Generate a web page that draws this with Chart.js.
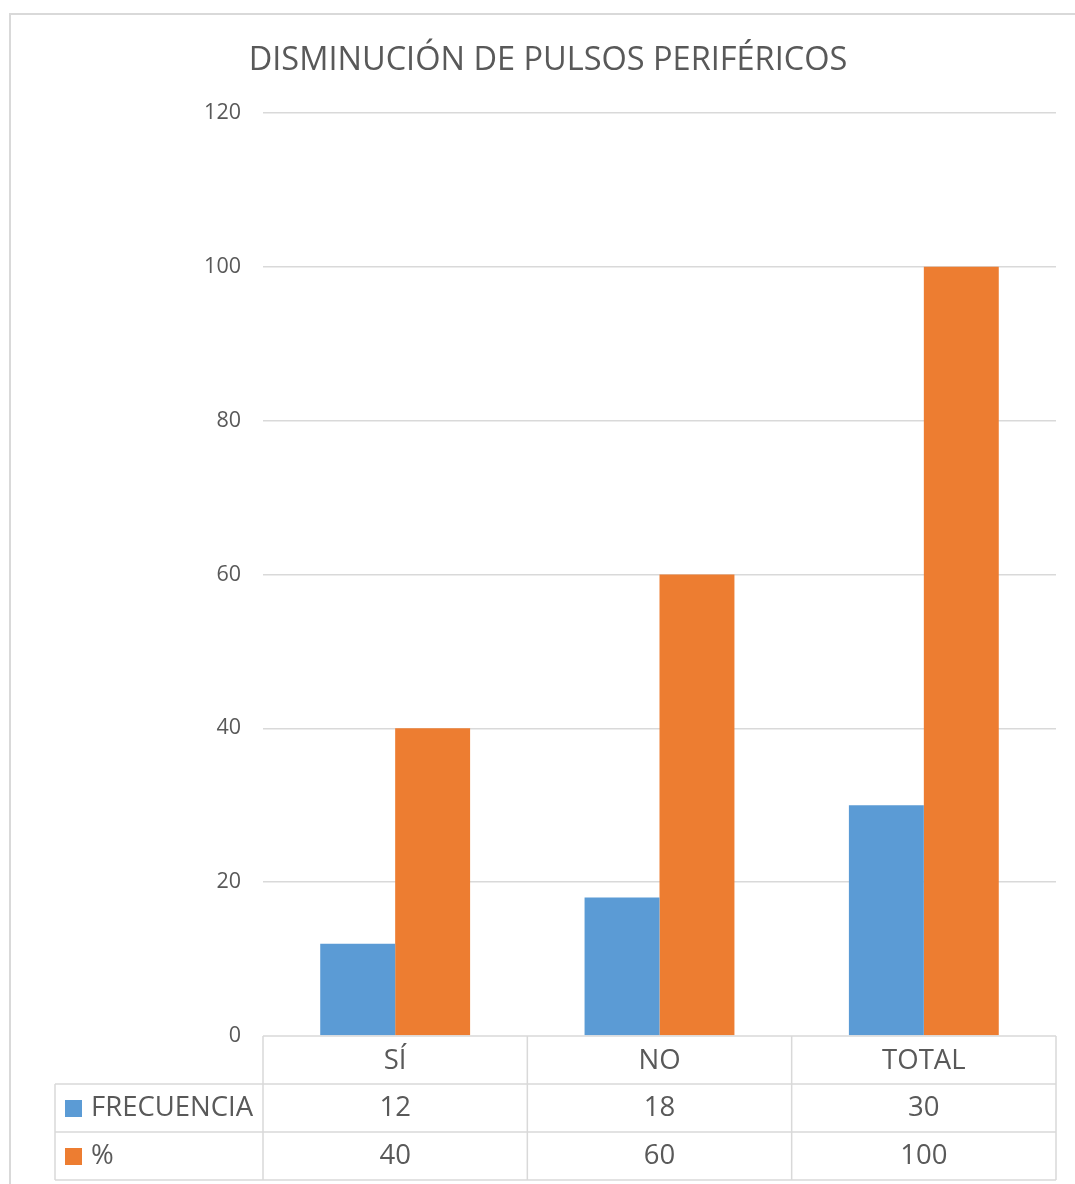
<!DOCTYPE html>
<html>
<head>
<meta charset="utf-8">
<script src="https://cdn.jsdelivr.net/npm/chart.js@4/dist/chart.umd.min.js"></script>
<style>
  html, body { margin: 0; padding: 0; background: #fff; }
  #wrap { width: 1075px; height: 1184px; position: relative; }
</style>
</head>
<body>
<div id="wrap"><canvas id="grafico" width="1075" height="1184"></canvas></div>
<script>
const categorias = ["SÍ", "NO", "TOTAL"];
const frecuencia = [12, 18, 30];
const porcentaje = [40, 60, 100];
const nombresSeries = ["FRECUENCIA", "%"];
const ticksY = [0, 20, 40, 60, 80, 100, 120];
const titulo = "DISMINUCIÓN DE PULSOS PERIFÉRICOS";

const AZUL = "#5b9bd5";
const NARANJA = "#ed7d31";
const TEXTO = "#595959";
const LINEA = "#d9d9d9";
const FUENTE = "'Open Sans', 'Noto Sans', sans-serif";

// marco exterior, titulo y tabla de datos bajo el eje
const tablaPlugin = {
    id: "tablaDatos",
    beforeDraw(chart) {
        const c = chart.ctx;
        c.save();
        c.fillStyle = "#fff";
        c.fillRect(0, 0, chart.width, chart.height);
        c.strokeStyle = LINEA;
        c.lineWidth = 2;
        c.strokeRect(10, 14, chart.width + 10, chart.height + 10);

        c.fillStyle = TEXTO;
        c.font = "32.5px " + FUENTE;
        c.textAlign = "center";
        c.textBaseline = "middle";
        c.fillText(titulo, 548, 61);
        c.restore();
    },
    afterDraw(chart) {
        const c = chart.ctx;
        const x = chart.scales.x;
        const area = chart.chartArea;
        const anchoCat = (area.right - area.left) / categorias.length;
        const filaAlto = 48;
        const top = area.bottom;
        const izq = 55;
        const filas = [frecuencia, porcentaje];
        const colores = [AZUL, NARANJA];

        c.save();
        c.strokeStyle = LINEA;
        c.lineWidth = 1.5;
        c.beginPath();
        // linea superior (solo zona de categorias)
        c.moveTo(area.left, top);
        c.lineTo(area.right, top);
        for (let r = 1; r <= 3; r++) {
            c.moveTo(izq, top + r * filaAlto);
            c.lineTo(area.right, top + r * filaAlto);
        }
        c.moveTo(izq, top + filaAlto);
        c.lineTo(izq, top + 3 * filaAlto);
        for (let i = 0; i <= categorias.length; i++) {
            const xx = area.left + i * anchoCat;
            c.moveTo(xx, top);
            c.lineTo(xx, top + 3 * filaAlto);
        }
        c.stroke();

        c.fillStyle = TEXTO;
        c.font = "27.5px " + FUENTE;
        c.textAlign = "center";
        c.textBaseline = "middle";
        categorias.forEach((cat, i) => {
            const cx = x.getPixelForValue(i);
            c.fillText(cat, cx, top + filaAlto / 2 + 1);
            filas.forEach((fila, r) => {
                c.fillText(String(fila[i]), cx, top + (r + 1.5) * filaAlto);
            });
        });

        c.textAlign = "left";
        nombresSeries.forEach((nombre, r) => {
            const cy = top + (r + 1.5) * filaAlto;
            c.fillStyle = colores[r];
            c.fillRect(65, cy - 8, 17, 17);
            c.fillStyle = TEXTO;
            c.fillText(nombre, 91, cy);
        });
        c.restore();
    }
};

const ctx = document.getElementById("grafico").getContext("2d");
new Chart(ctx, {
    type: "bar",
    data: {
        labels: categorias,
        datasets: [
            {
                label: nombresSeries[0],
                data: frecuencia,
                backgroundColor: AZUL,
                borderWidth: 0,
            },
            {
                label: nombresSeries[1],
                data: porcentaje,
                backgroundColor: NARANJA,
                borderWidth: 0,
            },
        ],
    },
    options: {
        responsive: false,
        animation: false,
        layout: {
            padding: { left: 0, right: 19, top: 113, bottom: 148 },
        },
        plugins: {
            legend: { display: false },
            tooltip: { enabled: false },
            title: { display: false },
        },
        datasets: {
            bar: { categoryPercentage: 0.567, barPercentage: 1.0 },
        },
        scales: {
            x: {
                display: false,
            },
            y: {
                min: 0,
                max: 120,
                afterBuildTicks(scale) {
                    scale.ticks = ticksY.map((v) => ({ value: v }));
                },
                afterFit(scale) {
                    scale.width = 263;
                },
                border: { display: false },
                grid: {
                    color: (c) => (c.tick.value === 0 ? "rgba(0,0,0,0)" : LINEA),
                    lineWidth: 1.5,
                    drawTicks: false,
                },
                ticks: {
                    color: TEXTO,
                    padding: 22,
                    font: { family: FUENTE, size: 21.5 },
                },
            },
        },
    },
    plugins: [tablaPlugin],
});
</script>
</body>
</html>
